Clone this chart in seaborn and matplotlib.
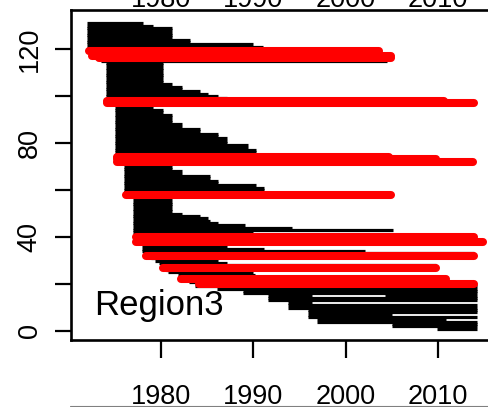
import matplotlib
matplotlib.use("Agg")
import matplotlib.pyplot as plt
import numpy as np
import pandas as pd
import seaborn as sns
from matplotlib.transforms import blended_transform_factory
from matplotlib.lines import Line2D

# ---------------- data ----------------
# black records: station index, first year, last year
black_row = [131, 130, 129, 128, 127, 126, 125, 124, 123, 122, 121, 120, 119, 118, 117, 116, 115,
             114, 113, 112, 111, 110, 109, 108, 107, 106, 105, 104, 103, 102, 101, 100, 99, 98, 97,
             96, 95, 94, 93, 92, 91, 90, 89, 88, 87, 86, 85, 84, 83, 82, 81, 80, 79, 78, 77, 76, 75,
             74, 73, 72,
             71, 70, 69, 68, 67, 66, 65, 64, 63, 62, 61, 60, 59, 58,
             57, 56, 55, 54, 53, 52, 51, 50, 49, 48, 47, 46, 45, 44, 43, 42, 41, 40, 39, 38,
             37, 36, 35, 34, 33, 32, 31, 30, 29, 28, 27, 26, 25, 24, 23, 22, 21, 20,
             19, 18, 17, 16, 15, 15, 14, 13, 12, 11, 10, 9, 8, 7, 6, 5, 4, 3, 2, 1]
black_start = [1972.0, 1972.0, 1972.0, 1972.0, 1972.0, 1972.0, 1972.0, 1972.0, 1972.0, 1972.0, 1972.0, 1972.0, 1972.2, 1972.3, 1972.5, 1973.3, 1973.5,
               1974.0, 1974.0, 1974.0, 1974.0, 1974.0, 1974.0, 1974.0, 1974.0, 1974.0, 1974.0, 1974.0, 1974.0, 1974.0, 1974.0, 1974.0, 1974.0, 1974.1, 1974.1,
               1975.0, 1975.0, 1975.0, 1975.0, 1975.0, 1975.0, 1975.0, 1975.0, 1975.0, 1975.0, 1975.0, 1975.0, 1975.0, 1975.0, 1975.0, 1975.0, 1975.0, 1975.0, 1975.0, 1975.0, 1975.0, 1975.0,
               1975.2, 1975.2, 1975.2,
               1976.0, 1976.0, 1976.0, 1976.0, 1976.0, 1976.0, 1976.0, 1976.0, 1976.0, 1976.0, 1976.0, 1976.0, 1976.0, 1976.2,
               1977.0, 1977.0, 1977.0, 1977.0, 1977.0, 1977.0, 1977.0, 1977.0, 1977.0, 1977.0, 1977.0, 1977.0, 1977.0, 1977.0, 1977.0, 1977.0, 1977.3, 1977.3, 1977.3, 1977.3,
               1977.9, 1977.9, 1977.9, 1977.9, 1978.4, 1978.4, 1978.9, 1979.3, 1979.8, 1980.2, 1980.2, 1980.5, 1980.8, 1981.8, 1982.2, 1982.2, 1983.0, 1984.1,
               1983.7, 1986.1, 1988.9, 1988.9, 1991.6, 2004.3, 1991.6, 1991.6, 1993.8, 1993.8, 1993.8, 1995.9, 1995.9, 1995.9, 1995.9, 1996.9, 1996.9, 2005.0, 2005.0, 2009.9]
black_end = [1978.0, 1979.1, 1981.2, 1981.2, 1981.2, 1981.2, 1981.2, 1983.1, 1983.1, 1990.0, 1991.0, 1993.1, 2003.6, 2004.0, 2004.9, 2004.9, 2004.5,
             1980.2, 1980.2, 1980.2, 1980.2, 1980.2, 1980.2, 1980.2, 1980.2, 1980.2, 1981.2, 1982.3, 1982.3, 1984.2, 1985.1, 1986.2, 1987.2, 2010.7, 2013.9,
             1979.1, 1979.1, 1980.2, 1980.2, 1981.2, 1981.2, 1981.2, 1981.2, 1982.3, 1982.3, 1984.2, 1984.2, 1986.2, 1986.2, 1987.2, 1987.2, 1987.2, 1989.4, 1989.4, 1990.3, 1990.3, 1995.2,
             2004.7, 2009.8, 2013.8,
             1981.2, 1981.2, 1981.2, 1982.3, 1982.3, 1985.3, 1985.3, 1986.2, 1986.2, 1990.3, 1991.2, 1991.2, 1991.2, 2004.9,
             1981.2, 1981.2, 1981.2, 1981.2, 1981.2, 1981.2, 1981.2, 1982.3, 1984.2, 1985.1, 1985.3, 1986.2, 1989.1, 1994.2, 2005.1, 1990.0, 2013.9, 2013.9, 2013.9, 2014.9,
             1986.1, 1987.2, 1991.2, 2002.1, 2013.9, 2013.9, 1986.2, 1986.2, 1987.2, 2009.8, 2009.8, 1990.0, 1990.0, 1990.2, 2010.9, 2010.9, 2013.9, 2013.9,
             2014.2, 2014.2, 2014.2, 2014.2, 1996.4, 2014.2, 2014.2, 2014.2, 1996.4, 2014.2, 2014.2, 2014.2, 2014.2, 2005.0, 2014.2, 2010.9, 2014.2, 2014.2, 2014.2, 2014.2]

# highlighted (red) records
red_row = [119, 117, 116, 98, 97, 74, 73, 72, 58, 40, 38, 32, 27, 22, 20]
red_start = [1972.2, 1972.5, 1973.3, 1974.1, 1974.1, 1975.2, 1975.2, 1975.2, 1976.2, 1977.3, 1977.3, 1978.4, 1980.2, 1982.2, 1984.1]
red_end = [2003.6, 2004.9, 2004.9, 2010.7, 2013.9, 2004.7, 2009.8, 2013.8, 2004.9, 2013.9, 2014.9, 2013.9, 2009.8, 2010.9, 2013.9]

x_ticks = [1980, 1990, 2000, 2010]
x_labels = ["1980", "1990", "2000", "2010"]
y_ticks = [0, 20, 40, 60, 80, 100, 120]
y_labels = ["0", "", "40", "", "80", "", "120"]
panel_label = "Region3"


def to_long(rows, starts, ends):
    recs = []
    for i, (r, s, e) in enumerate(zip(rows, starts, ends)):
        recs.append({"seg": i, "year": s, "row": r})
        recs.append({"seg": i, "year": e, "row": r})
    return pd.DataFrame(recs)


df_black = to_long(black_row, black_start, black_end)
df_red = to_long(red_row, red_start, red_end)

# ---------------- style ----------------
sns.set_theme(style="ticks")
plt.rcParams["font.family"] = ["Liberation Sans", "DejaVu Sans"]

W, H = 489, 407
fig = plt.figure(figsize=(W / 100, H / 100), dpi=100)
ax = fig.add_axes([71 / W, 67 / H, 429 / W, 330 / H])

sns.lineplot(data=df_black, x="year", y="row", units="seg", estimator=None, sort=False,
             color="black", linewidth=2.3, solid_capstyle="butt", legend=False, ax=ax)
sns.lineplot(data=df_red, x="year", y="row", units="seg", estimator=None, sort=False,
             color="#FF0000", linewidth=5.8, solid_capstyle="round", legend=False, ax=ax)

ax.set_xlim(1970.25, 2016.73)
ax.set_ylim(-3.83, 136.6)
ax.set_xlabel("")
ax.set_ylabel("")
ax.grid(False)

ax.set_xticks(x_ticks)
ax.set_xticklabels(x_labels)
ax.set_yticks(y_ticks)
ax.set_yticklabels(y_labels)

for s in ["left", "top", "bottom", "right"]:
    ax.spines[s].set_visible(True)
    ax.spines[s].set_color("black")
    ax.spines[s].set_linewidth(1.9)

ax.tick_params(axis="x", length=13, width=1.6, pad=19, labelsize=19.5, colors="black")
ax.tick_params(axis="y", length=11.5, width=1.6, pad=9, labelsize=19.5, colors="black",
               labelrotation=90)
for lab in ax.get_yticklabels():
    lab.set_va("center")

# labels of the panel above (cut off by the figure edge, as in the original)
trans = blended_transform_factory(ax.transData, fig.transFigure)
for t, lab in zip(x_ticks, x_labels):
    ax.text(t, 1 - 7 / H, lab, transform=trans, ha="center", va="baseline",
            fontsize=19.5, color="black", clip_on=False)

ax.text(1972.8, 6.8, panel_label, fontsize=25, ha="left", va="baseline", color="black")

# edge of the panel below
fig.add_artist(Line2D([70 / W, 1.0], [1 / H, 1 / H], transform=fig.transFigure,
                      color="#808080", linewidth=0.8))

fig.savefig("out.png", dpi=100)
